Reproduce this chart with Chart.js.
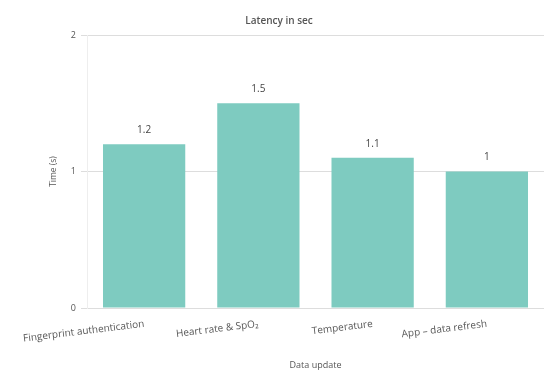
<!DOCTYPE html>
<html>
<head>
<meta charset="utf-8">
<script src="https://cdn.jsdelivr.net/npm/chart.js@4/dist/chart.umd.min.js"></script>
<style>
  html, body { margin: 0; padding: 0; background: #ffffff; }
  #wrap { width: 544px; height: 371px; }
</style>
</head>
<body>
<div id="wrap"><canvas id="c" width="544" height="371"></canvas></div>
<script>
const categories = ["Fingerprint authentication", "Heart rate & SpO\u2082", "Temperature", "App \u2013 data refresh"];
const latencyValues = [1.2, 1.5, 1.1, 1];
const yTicks = [0, 1, 2];
const chartTitle = "Latency in sec";
const xTitle = "Data update";
const yTitle = "Time (s)";

const FONT = "'Open Sans', 'Noto Sans', sans-serif";

const valueLabels = {
  id: 'valueLabels',
  afterDatasetsDraw(chart) {
    const ctx = chart.ctx;
    const meta = chart.getDatasetMeta(0);
    ctx.save();
    ctx.font = "10px " + FONT;
    ctx.fillStyle = "#444444";
    ctx.textAlign = "center";
    ctx.textBaseline = "middle";
    meta.data.forEach((bar, i) => {
      ctx.fillText(String(latencyValues[i]), bar.x, bar.y - 14);
    });
    ctx.restore();
  }
};

new Chart(document.getElementById('c'), {
  type: 'bar',
  data: {
    labels: categories,
    datasets: [{
      data: latencyValues,
      backgroundColor: 'rgb(126,203,192)',
      borderWidth: 0,
      barPercentage: 0.9,
      categoryPercentage: 0.8
    }]
  },
  options: {
    responsive: false,
    animation: false,
    devicePixelRatio: 1,
    layout: { padding: { left: 14, right: 0, top: 0, bottom: 0 } },
    plugins: {
      legend: { display: false },
      tooltip: { enabled: false },
      title: {
        display: true,
        text: chartTitle,
        color: '#555555',
        font: { family: FONT, size: 10, weight: '600' },
        padding: { top: 15, bottom: 8 }
      }
    },
    scales: {
      x: {
        offset: true,
        grid: { display: false },
        border: { display: false },
        ticks: {
          color: '#555555',
          font: { family: FONT, size: 10 },
          minRotation: 7,
          maxRotation: 7,
          autoSkip: false,
          padding: 2
        },
        title: {
          display: true,
          text: xTitle,
          color: '#555555',
          font: { family: FONT, size: 9 },
          padding: { top: 0, bottom: 0 }
        },
        afterFit(scale) { scale.height = 63; }
      },
      y: {
        min: 0,
        max: 2,
        afterBuildTicks(scale) { scale.ticks = yTicks.map(v => ({ value: v })); },
        grid: { color: '#dddddd', tickLength: 6, drawTicks: true },
        border: { display: true, color: '#eeeeee' },
        ticks: {
          color: '#555555',
          font: { family: FONT, size: 9 },
          padding: 5
        },
        title: {
          display: true,
          text: yTitle,
          color: '#555555',
          font: { family: FONT, size: 8.5 },
          padding: { top: 34, bottom: 0 }
        },
        afterFit(scale) { scale.width = 73; }
      }
    }
  },
  plugins: [valueLabels]
});
</script>
</body>
</html>
